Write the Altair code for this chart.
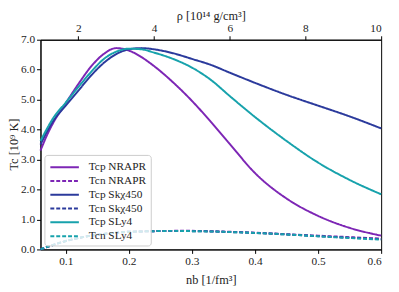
import altair as alt
import pandas as pd

# density grid [1/fm^3]
n_grid = [0.06, 0.07, 0.08, 0.10, 0.12, 0.14, 0.16, 0.18, 0.20, 0.22, 0.24,
          0.27, 0.30, 0.33, 0.36, 0.40, 0.45, 0.50, 0.55, 0.60]

# proton critical temperatures [10^9 K]
tcp_nrapr = [3.30, 3.80, 4.22, 4.88, 5.52, 6.10, 6.52, 6.72, 6.64, 6.42, 6.12,
             5.58, 4.96, 4.26, 3.52, 2.55, 1.70, 1.12, 0.72, 0.46]
tcp_skx = [3.50, 3.92, 4.28, 4.80, 5.30, 5.80, 6.22, 6.52, 6.68, 6.72, 6.68,
           6.55, 6.36, 6.16, 5.90, 5.56, 5.16, 4.80, 4.44, 4.04]
tcp_sly4 = [3.62, 4.02, 4.38, 4.90, 5.42, 5.92, 6.35, 6.60, 6.70, 6.68, 6.57,
            6.36, 6.07, 5.66, 5.12, 4.42, 3.62, 2.90, 2.32, 1.84]

# neutron critical temperatures [10^9 K]
tcn_nrapr = [0.00, 0.08, 0.15, 0.28, 0.38, 0.46, 0.52, 0.56, 0.59, 0.60, 0.61,
             0.62, 0.62, 0.61, 0.59, 0.56, 0.51, 0.46, 0.41, 0.36]
tcn_skx = [0.00, 0.08, 0.15, 0.28, 0.38, 0.46, 0.52, 0.56, 0.59, 0.60, 0.61,
           0.62, 0.61, 0.60, 0.58, 0.55, 0.50, 0.44, 0.39, 0.34]
tcn_sly4 = [0.00, 0.08, 0.15, 0.28, 0.38, 0.46, 0.52, 0.56, 0.59, 0.60, 0.61,
            0.62, 0.61, 0.60, 0.58, 0.55, 0.50, 0.44, 0.38, 0.33]

series_names = ["Tcp NRAPR", "Tcn NRAPR", "Tcp Skχ450", "Tcn Skχ450", "Tcp SLy4", "Tcn SLy4"]
series_values = [tcp_nrapr, tcn_nrapr, tcp_skx, tcn_skx, tcp_sly4, tcn_sly4]
series_colors = ["#7d26b5", "#7d26b5", "#2b3a9c", "#2b3a9c", "#17a2ac", "#17a2ac"]
series_dash = [[1, 0], [4, 2], [1, 0], [4, 2], [1, 0], [4, 2]]

x_ticks = [0.1, 0.2, 0.3, 0.4, 0.5, 0.6]
y_ticks = [0, 1, 2, 3, 4, 5, 6, 7]
rho_ticks = [2, 4, 6, 8, 10]
rho_range = [1.0, 10.0]

rows = []
for order, (name, vals) in enumerate(zip(series_names, series_values)):
    for n, t in zip(n_grid, vals):
        rows.append({"series": name, "order": order, "n": n, "T": t})
df = pd.DataFrame(rows)

FONT = "Liberation Serif"

legend = alt.Legend(title=None, orient="bottom-left", symbolType="M-2,0H2",
                    symbolStrokeWidth=2, symbolSize=210, symbolOffset=8,
                    labelOffset=16, labelFont=FONT, labelFontSize=11.5,
                    fillColor="rgba(255,255,255,0.8)", strokeColor="#cccccc",
                    cornerRadius=3, padding=4, offset=4, rowPadding=0,
                    labelColor="#222")

lines = alt.Chart(df).mark_line(strokeWidth=2, interpolate="monotone").encode(
    x=alt.X("n:Q", scale=alt.Scale(domain=[0.06, 0.6], nice=False, zero=False),
            axis=alt.Axis(values=x_ticks, format=".1f", title="nb [1/fm³]",
                          grid=False, titlePadding=7)),
    y=alt.Y("T:Q", scale=alt.Scale(domain=[0, 7], nice=False),
            axis=alt.Axis(values=y_ticks, format=".1f", title="Tc [10⁹ K]",
                          grid=False, titleX=-33, titleY=106, titleAngle=270,
                          titleBaseline="top", titleAlign="center")),
    color=alt.Color("series:N", scale=alt.Scale(domain=series_names, range=series_colors),
                    legend=legend),
    strokeDash=alt.StrokeDash("series:N", scale=alt.Scale(domain=series_names, range=series_dash),
                              legend=legend),
    detail="series:N",
    order="order:Q",
)

rho_df = pd.DataFrame({"rho": rho_range})
top = alt.Chart(rho_df).mark_point(opacity=0).encode(
    x=alt.X("rho:Q", scale=alt.Scale(domain=rho_range, nice=False, zero=False),
            axis=alt.Axis(orient="top", values=rho_ticks, format="d",
                          title="ρ [10¹⁴ g/cm³]", grid=False,
                          titleY=-31, titleBaseline="top")),
    y=alt.value(0),
)

chart = alt.layer(lines, top).resolve_scale(x="independent").properties(
    width=346, height=213,
    autosize=alt.AutoSizeParams(type="none"),
    padding={"left": 33, "top": 30, "right": 10, "bottom": 40},
).configure(font=FONT).configure_view(stroke="black", strokeWidth=1).configure_axis(
    labelFont=FONT, titleFont=FONT, labelFontSize=11.5, titleFontSize=12.5,
    titleFontWeight="normal", domainColor="black", tickColor="black",
    tickSize=4, labelColor="#222", titleColor="#222", labelPadding=2,
).configure_legend(labelFont=FONT)

chart.save("out.html", embed_options={"renderer": "svg", "actions": False})
